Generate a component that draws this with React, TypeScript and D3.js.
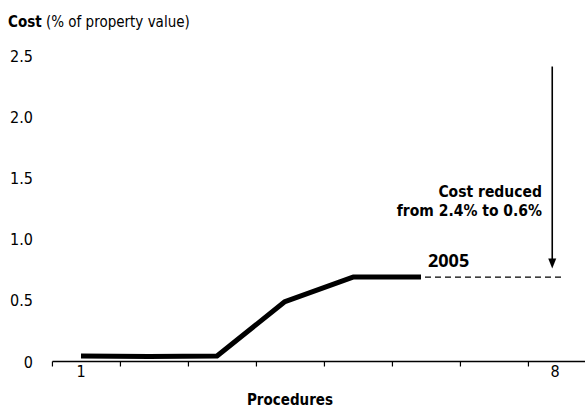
import React from "react";
import * as d3 from "d3";

const procedures = [1, 2, 3, 4, 5, 6];
const cost2005 = [0.045, 0.04, 0.045, 0.49, 0.69, 0.69];
const projection = [{ p: 6, v: 0.69 }, { p: 8, v: 0.69 }];
const yTicks = [0, 0.5, 1.0, 1.5, 2.0, 2.5];
const yTickLabels = ["0", "0.5", "1.0", "1.5", "2.0", "2.5"];
const xTickPositions = [1, 2, 3, 4, 5, 6, 7, 8];
const xTickLabels = [{ p: 1, t: "1" }, { p: 8, t: "8" }];
const arrowFrom = 2.41;
const arrowTo = 0.76;
const arrowAt = 7.93;
const seriesLabel = "2005";
const annotation = ["Cost reduced", "from 2.4% to 0.6%"];

const W = 585;
const H = 411;
const FONT = "'Liberation Sans Narrow', 'DejaVu Sans Condensed', 'Arial Narrow', sans-serif";

export default function App() {
  const x = d3.scaleLinear().domain([1, 8]).range([81, 557]);
  const y = d3.scaleLinear().domain([0, 2.5]).range([361.5, 55.5]);
  const line = d3
    .line<number>()
    .x((_, i) => x(procedures[i]))
    .y((d) => y(d));
  const dashLine = d3
    .line<{ p: number; v: number }>()
    .x((d) => x(d.p))
    .y((d) => y(d.v));
  const unit = x(2) - x(1);
  const axisY = y(0);
  const ax = x(arrowAt);
  const ay1 = y(arrowFrom);
  const ay2 = y(arrowTo);

  return (
    <div style={{ position: "absolute", left: 0, top: 0 }}>
      <svg width={W} height={H} style={{ display: "block", background: "#fff" }} fontFamily={FONT}>
        <text x={8} y={27} fontSize={15} fill="#000">
          <tspan fontWeight="bold">Cost</tspan>
          <tspan> (% of property value)</tspan>
        </text>
        {yTicks.map((v, i) => (
          <text key={v} x={33} y={y(v) + 6} fontSize={16} textAnchor="end" fill="#000">
            {yTickLabels[i]}
          </text>
        ))}
        <line x1={x(1) - 0.42 * unit} x2={W} y1={axisY} y2={axisY} stroke="#000" strokeWidth={1.6} />
        {xTickPositions.map((p) => (
          <line
            key={p}
            x1={x(p) - 0.42 * unit}
            x2={x(p) - 0.42 * unit}
            y1={axisY}
            y2={axisY + 5}
            stroke="#000"
            strokeWidth={1.2}
          />
        ))}
        {xTickLabels.map((d) => (
          <text key={d.t} x={x(d.p) - (d.p === 8 ? 2 : 0)} y={axisY + 15} fontSize={16} textAnchor="middle" fill="#000">
            {d.t}
          </text>
        ))}
        <text x={290} y={405} fontSize={15} fontWeight="bold" textAnchor="middle" fill="#000">
          Procedures
        </text>
        <path d={line(cost2005) || ""} fill="none" stroke="#000" strokeWidth={5} strokeLinejoin="round" />
        <path
          d={dashLine(projection) || ""}
          fill="none"
          stroke="#000"
          strokeWidth={1.2}
          strokeDasharray="6,4"
          transform="translate(4,0)"
        />
        <text x={428} y={267} fontSize={18} fontWeight="bold" fontFamily="'Open Sans', sans-serif" fill="#000">
          {seriesLabel}
        </text>
        <line x1={ax} x2={ax} y1={ay1} y2={ay2 - 8} stroke="#000" strokeWidth={1.6} />
        <path d={`M${ax - 4},${ay2 - 10} L${ax + 4},${ay2 - 10} L${ax},${ay2} Z`} fill="#000" />
        <text x={542} y={197} fontSize={15.5} fontWeight="bold" textAnchor="end" fill="#000">
          {annotation[0]}
        </text>
        <text x={542} y={216} fontSize={15.5} fontWeight="bold" textAnchor="end" fill="#000">
          {annotation[1]}
        </text>
      </svg>
    </div>
  );
}
